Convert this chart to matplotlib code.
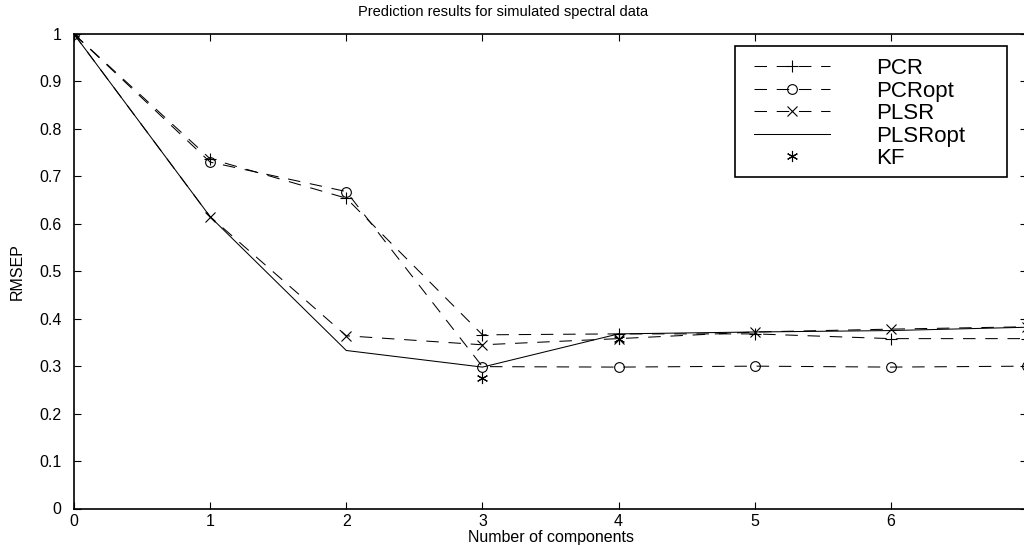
import numpy as np
import matplotlib
matplotlib.use('Agg')
import matplotlib.pyplot as plt
from matplotlib.patches import Rectangle
from matplotlib.ticker import FuncFormatter

plt.rcParams['font.family'] = ['Liberation Sans', 'DejaVu Sans']
plt.rcParams['lines.scale_dashes'] = False

# Values
components = [0, 1, 2, 3, 4, 5, 6, 7]
pcr = [1.0, 0.737, 0.654, 0.366, 0.368, 0.368, 0.358, 0.358]
pcr_opt = [1.0, 0.730, 0.668, 0.299, 0.298, 0.300, 0.298, 0.300]
plsr = [1.0, 0.615, 0.364, 0.345, 0.358, 0.372, 0.378, 0.383]
plsr_opt = [1.0, 0.615, 0.333, 0.298, 0.368, 0.372, 0.375, 0.382]
kf_components = [0, 3, 4]
kf = [1.0, 0.276, 0.358]

xtick_values = [0, 1, 2, 3, 4, 5, 6]
ytick_values = [0, 0.1, 0.2, 0.3, 0.4, 0.5, 0.6, 0.7, 0.8, 0.9, 1.0]

W, H = 1024, 545
fig = plt.figure(figsize=(W / 100, H / 100), dpi=100)
ax = fig.add_axes([74 / W, (H - 508.5) / H, (1027 - 74) / W, (508.5 - 34) / H])

dash = (9, 7)
lw = 0.75
ms = 8
ax.plot(components, pcr, color='black', lw=lw, dashes=dash, marker='+',
        ms=ms, mew=0.8, label='PCR')
ax.plot(components, pcr_opt, color='black', lw=lw, dashes=dash, marker='o',
        ms=7, mew=0.8, mfc='none', label='PCRopt')
ax.plot(components, plsr, color='black', lw=lw, dashes=dash, marker='x',
        ms=6.5, mew=0.8, label='PLSR')
ax.plot(components, plsr_opt, color='black', lw=lw, label='PLSRopt')
ax.plot(kf_components, kf, color='black', lw=0, marker=(6, 2, 0),
        ms=8, mew=0.8, label='KF')

ax.set_xlim(0, 7)
ax.set_ylim(0, 1)
ax.set_xticks(xtick_values)
ax.set_yticks(ytick_values)
ax.yaxis.set_major_formatter(FuncFormatter(lambda v, p: '%g' % v))
ax.tick_params(direction='in', length=5, width=0.8, top=True, right=True,
               labelsize=11.5, color='black')
ax.tick_params(axis='y', pad=9)
ax.tick_params(axis='x', pad=4)
for s in ax.spines.values():
    s.set_linewidth(1.2)

ax.set_xlabel('Number of components', fontsize=11.5, labelpad=1)
ax.set_ylabel('RMSEP', fontsize=11.5, labelpad=10)
fig.text(503 / W, 1 - 12 / H, 'Prediction results for simulated spectral data',
         ha='center', va='center', fontsize=10.5)

# legend with a hand placed frame
leg = ax.legend(loc='upper left', bbox_to_anchor=(754 / W, 1 - 58 / H),
                bbox_transform=fig.transFigure, frameon=False, fontsize=16,
                numpoints=1, handlelength=3.4, handletextpad=2.1,
                labelspacing=0.07, borderpad=0, borderaxespad=0)
fig.patches.append(Rectangle((734.5 / W, 1 - 177 / H), (1007 - 734.5) / W,
                             (177 - 46) / H, transform=fig.transFigure,
                             fill=False, edgecolor='black', lw=1.2, zorder=5))

fig.savefig('out.png', dpi=100)
